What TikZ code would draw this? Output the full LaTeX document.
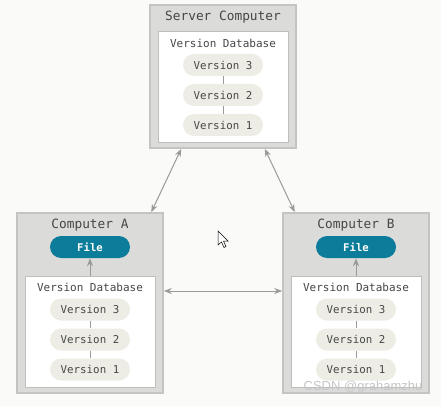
\documentclass[tikz,border=0pt]{standalone}
\usepackage{fontspec}
\setmonofont{DejaVu Sans Mono}
\newfontfamily\wmfont{Liberation Sans}
\usepackage{tikz}
\usetikzlibrary{arrows.meta, positioning}
\definecolor{bgcol}{RGB}{250,250,248}
\definecolor{boxfill}{RGB}{219,219,217}
\definecolor{boxline}{RGB}{196,196,194}
\definecolor{dbline}{RGB}{190,190,188}
\definecolor{pillfill}{RGB}{237,237,229}
\definecolor{textcol}{RGB}{70,70,70}
\definecolor{filecol}{RGB}{11,124,153}
\definecolor{linkcol}{RGB}{154,154,152}
\tikzset{
	machine/.style={draw=boxline, fill=boxfill, line width=1.6pt, minimum width=146pt},
	dbbox/.style={draw=dbline, fill=white, line width=1pt, minimum width=130pt, minimum height=111pt},
	title/.style={text=textcol, font=\ttfamily\fontsize{12.8}{14}\selectfont},
	dbtitle/.style={text=textcol, font=\ttfamily\fontsize{11}{12}\selectfont},
	version/.style={fill=pillfill, rounded corners=11pt, minimum width=80pt, minimum height=22pt,
		text=textcol, font=\ttfamily\fontsize{10.8}{12}\selectfont},
	filepill/.style={version, fill=filecol, text=white, font=\ttfamily\bfseries\fontsize{10.6}{12}\selectfont},
	link/.style={draw=linkcol, line width=1pt},
}
% database box with three versions, #1 name, (#2,#3) centre
\newcommand{\versionDB}[3]{
	\node[dbbox] (#1) at (#2,#3) {};
	\node[dbtitle] (#1t) at (#2,#3-44) {Version Database};
	\node[version] (#1v3) at (#2,#3-22) {Version 3};
	\node[version] (#1v2) at (#2,#3+8) {Version 2};
	\node[version] (#1v1) at (#2,#3+38) {Version 1};
	\draw[link] (#1v3) -- (#1v2);
	\draw[link] (#1v2) -- (#1v1);
}
% client computer with file and database, #1 name, (#2,#3) centre
\newcommand{\clientPC}[4]{
	\node[machine, minimum height=180pt] (#1) at (#2,#3) {};
	\node[title] (#1t) at (#2,#3-78) {#4};
	\node[filepill] (#1f) at (#2,#3-56) {File};
	\versionDB{#1db}{#2}{#3+28.5}
	\draw[link, ->] (#1db) -- (#1f);
}

\begin{document}
\begin{tikzpicture}[x=1pt, y=-1pt, >={Stealth[length=8pt, width=6pt]}]
	\fill[bgcol] (0,0) rectangle (441,406);
	\useasboundingbox (0,0) rectangle (441,406);
	% server
	\node[machine, minimum height=143pt] (server) at (223,76.5) {};
	\node[title] (servert) at (223,17) {Server Computer};
	\versionDB{srvdb}{223}{87}
	% clients
	\clientPC{compA}{90}{303}{Computer A}
	\clientPC{compB}{356}{303}{Computer B}
	% links
	\draw[link, <->] (server.-120) -- (compA.56);
	\draw[link, <->] (server.-60) -- (compB.124);
	\draw[link, <->] ([yshift=12pt]compA.east) -- ([yshift=12pt]compB.west);
	% cursor
	\draw[fill=white, line width=0.5pt] (218,231) -- (218,245) -- (221.5,242) -- (224,247.5) -- (226,246.5) -- (223.5,241) -- (228,241) -- cycle;
	\node[text=white!55!gray, font=\wmfont\fontsize{13}{15}\selectfont] (mark) at (363,387) {CSDN @grahamzhu};
\end{tikzpicture}
\end{document}
